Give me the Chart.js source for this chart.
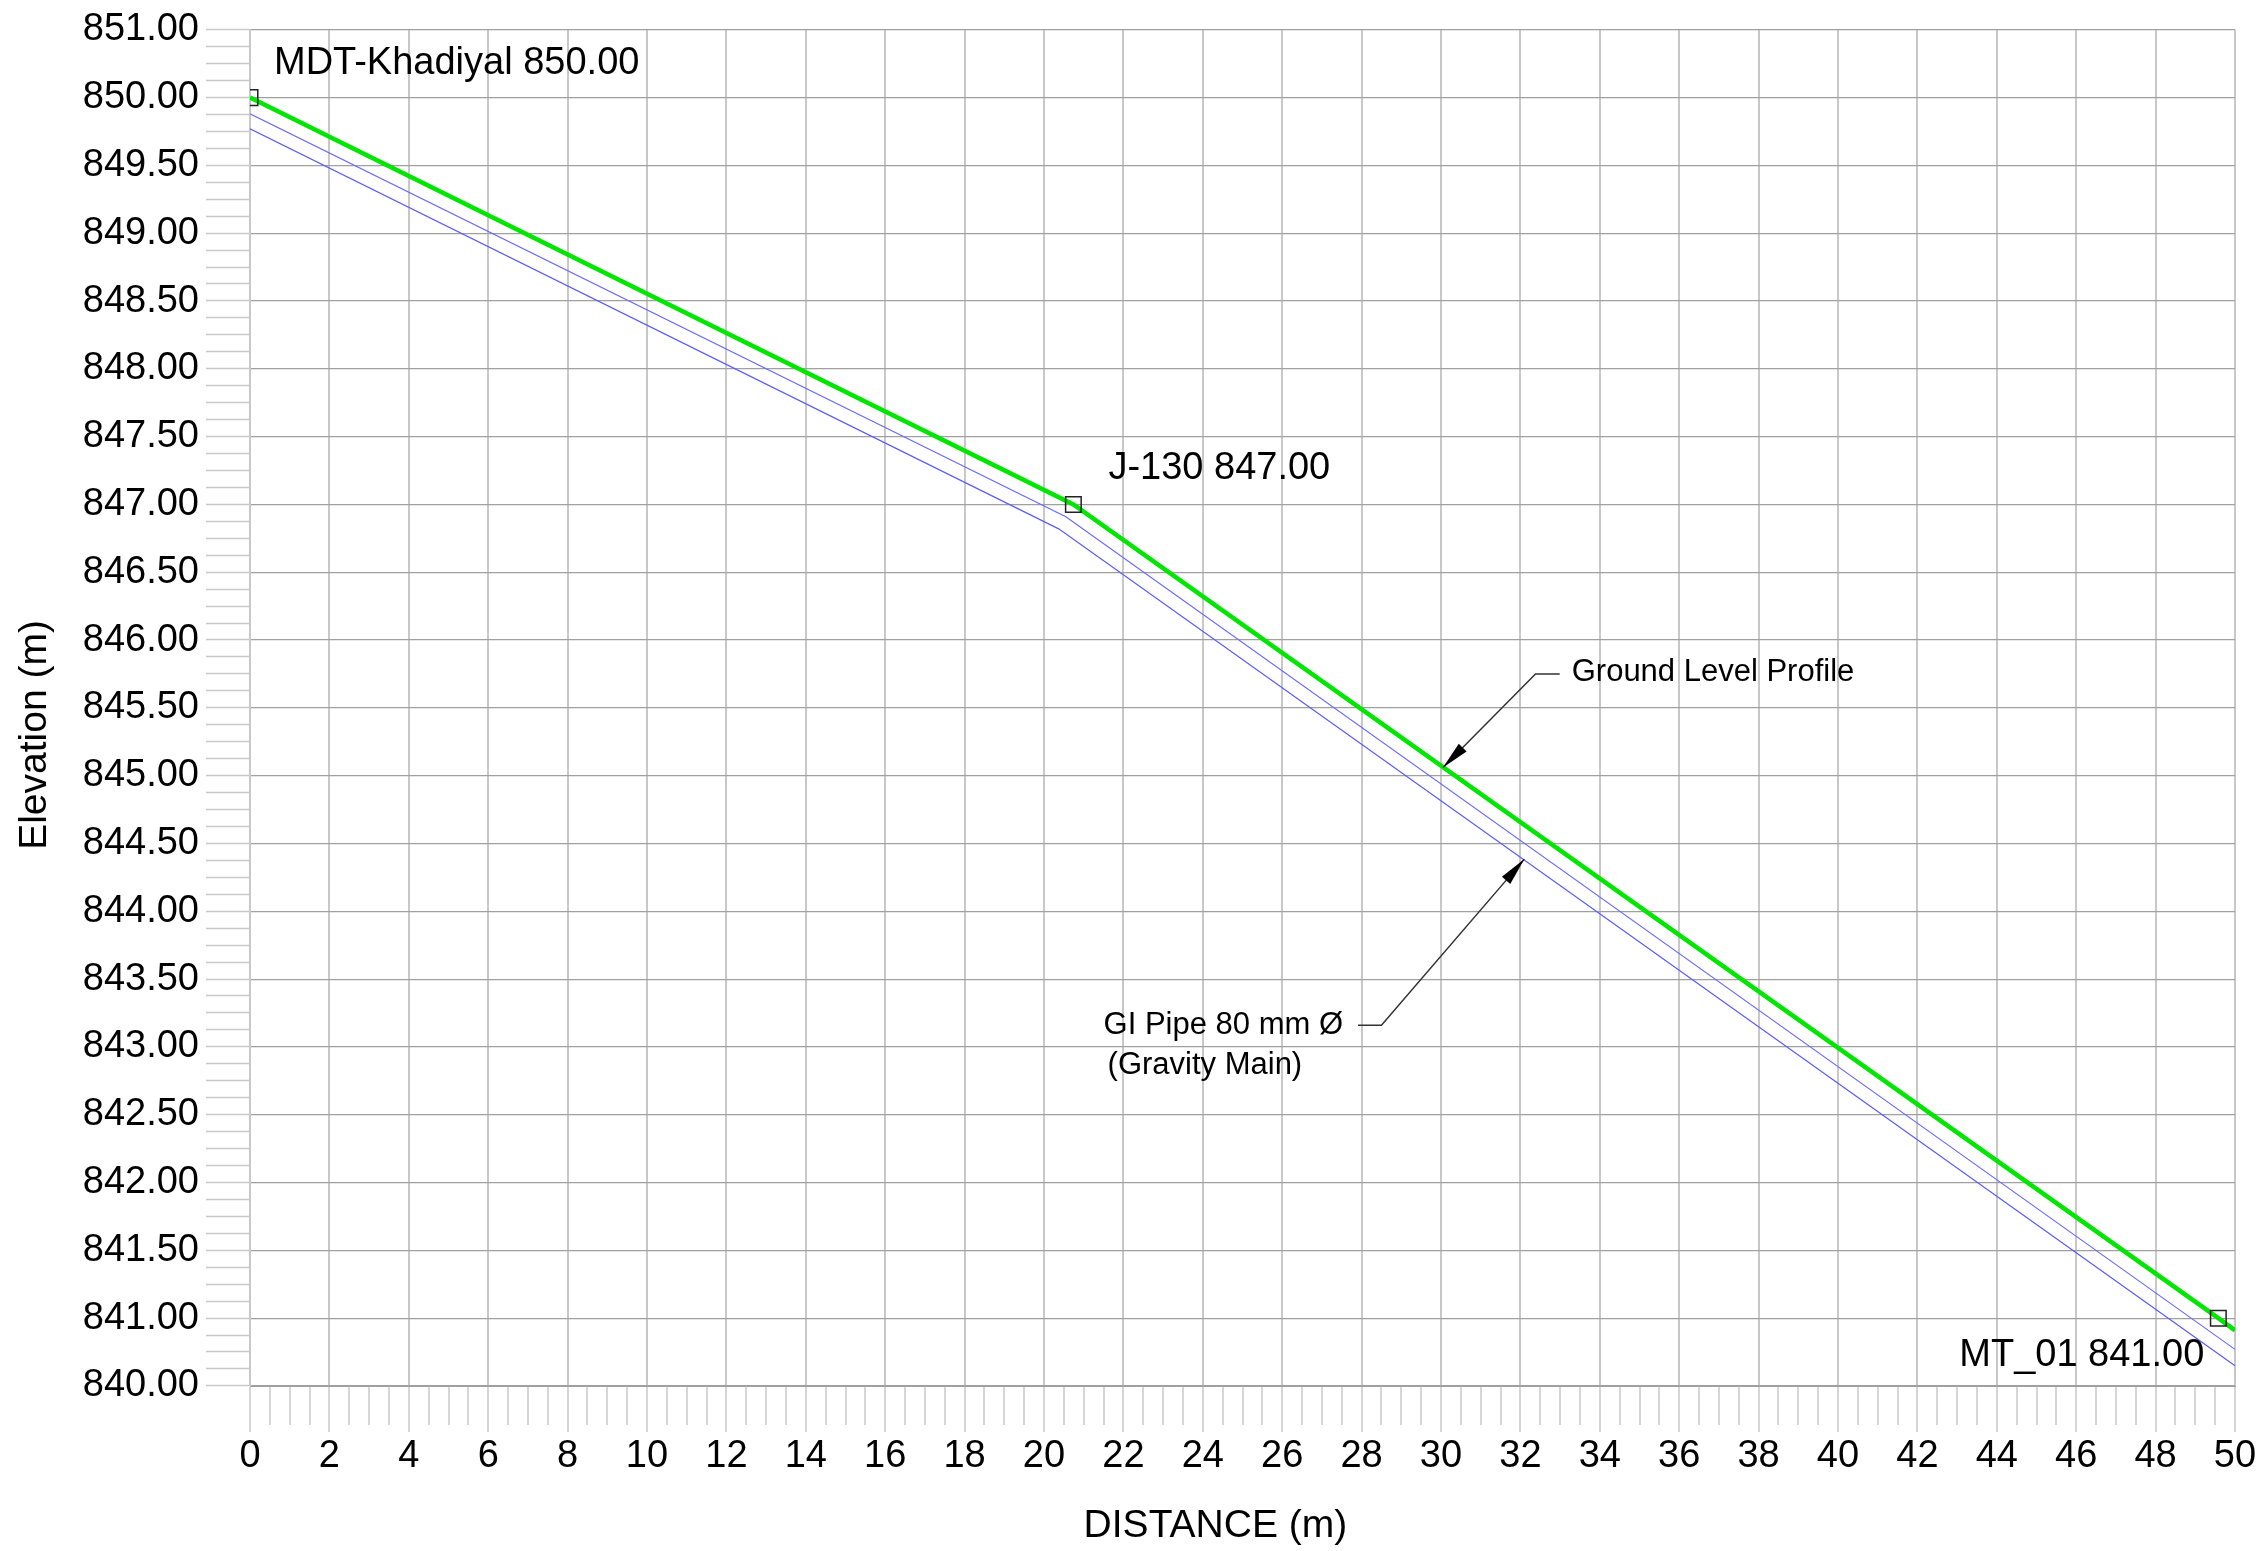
<!DOCTYPE html>
<html>
<head>
<meta charset="utf-8">
<title>Ground profile</title>
<script src="https://cdn.jsdelivr.net/npm/chart.js@4.4.1/dist/chart.umd.min.js"></script>
<style>
  html, body { margin: 0; padding: 0; background: #fff; }
  #wrap { width: 2265px; height: 1551px; }
</style>
</head>
<body>
<div id="wrap"><canvas id="profile" width="2265" height="1551"></canvas></div>
<script>
// ground level profile
const groundDistance = [0, 20.74, 49.58, 50];
const groundElevation = [850.00, 847.00, 841.00, 840.91];

// GI pipe (two thin lines)
const pipeTopDistance = [0, 20.55, 50];
const pipeTopElevation = [849.88, 846.91, 840.77];
const pipeBottomDistance = [0, 20.37, 50];
const pipeBottomElevation = [849.77, 846.82, 840.65];

// nodes
const nodeNames = ['MDT-Khadiyal', 'J-130', 'MT_01'];
const nodeDistance = [0, 20.74, 49.58];
const nodeElevation = [850.00, 847.00, 841.00];

// elevation labels as printed on the drawing, one per 0.5 grid line, bottom to top
const elevationTickLabels = ['840.00', '841.00', '841.50', '842.00', '842.50', '843.00', '843.50',
  '844.00', '844.50', '845.00', '845.50', '846.00', '846.50', '847.00', '847.50', '848.00',
  '848.50', '849.00', '849.50', '850.00', '851.00'];
const yMin = 840.5, yMax = 850.5;
const xMin = 0, xMax = 50;

// leader notes (data units)
const groundNote = { text: 'Ground Level Profile', tip: [30.05, 845.06], elbow: [32.38, 845.75], end: [32.99, 845.75] };
const pipeNote = { text: ['GI Pipe 80 mm Ø', '(Gravity Main)'], tip: [32.10, 844.385], elbow: [28.50, 843.16], end: [27.91, 843.16] };

const FONT = '"Liberation Sans", Arial, sans-serif';
const labelOffsets = [[24, -34, 'left'], [35, -36, 'left'], [-14, 37, 'right']];

function pts(xs, ys) {
  return xs.map((x, i) => ({ x: x, y: ys[i] }));
}
function isMajorY(v) {
  const k = (v - yMin) / 0.5;
  return Math.abs(k - Math.round(k)) < 1e-6;
}
function isMajorX(v) {
  return Math.abs(v / 2 - Math.round(v / 2)) < 1e-6;
}

const notesPlugin = {
  id: 'notes',
  afterDatasetsDraw(chart) {
    const ctx = chart.ctx;
    const sx = chart.scales.x, sy = chart.scales.y;
    const P = (p) => [sx.getPixelForValue(p[0]), sy.getPixelForValue(p[1])];
    ctx.save();

    // node labels
    ctx.fillStyle = '#000';
    ctx.font = '38px ' + FONT;
    ctx.textBaseline = 'middle';
    nodeNames.forEach((n, i) => {
      const px = sx.getPixelForValue(nodeDistance[i]);
      const py = sy.getPixelForValue(nodeElevation[i]);
      const o = labelOffsets[i];
      ctx.textAlign = o[2];
      ctx.fillText(n + ' ' + nodeElevation[i].toFixed(2), px + o[0], py + o[1]);
    });

    // leaders with arrow heads
    function leader(note) {
      const t = P(note.tip), e = P(note.elbow), d = P(note.end);
      ctx.strokeStyle = '#333';
      ctx.lineWidth = 1.5;
      ctx.beginPath();
      ctx.moveTo(d[0], d[1]);
      ctx.lineTo(e[0], e[1]);
      ctx.lineTo(t[0], t[1]);
      ctx.stroke();
      const ang = Math.atan2(t[1] - e[1], t[0] - e[0]);
      const len = 28, hw = 5.5;
      const bx = t[0] - len * Math.cos(ang), by = t[1] - len * Math.sin(ang);
      ctx.fillStyle = '#000';
      ctx.beginPath();
      ctx.moveTo(t[0], t[1]);
      ctx.lineTo(bx + hw * Math.sin(ang), by - hw * Math.cos(ang));
      ctx.lineTo(bx - hw * Math.sin(ang), by + hw * Math.cos(ang));
      ctx.closePath();
      ctx.fill();
      return d;
    }
    ctx.font = '31px ' + FONT;
    const g = leader(groundNote);
    ctx.textAlign = 'left';
    ctx.fillText(groundNote.text, g[0] + 12, g[1] - 2);

    const p = leader(pipeNote);
    ctx.font = '31px ' + FONT;
    const w = ctx.measureText(pipeNote.text[0]).width;
    const left = p[0] - 15 - w;
    ctx.textAlign = 'left';
    ctx.fillText(pipeNote.text[0], left, p[1]);
    ctx.fillText(pipeNote.text[1], left + 4, p[1] + 40);
    ctx.restore();
  }
};

const profile = new Chart(document.getElementById('profile').getContext('2d'), {
  type: 'line',
  data: {
    datasets: [
      {
        label: 'Nodes',
        data: pts(nodeDistance, nodeElevation),
        showLine: false,
        pointStyle: 'rect',
        pointRadius: 11,
        pointHoverRadius: 11,
        pointBorderColor: '#222',
        pointBackgroundColor: 'rgba(0,0,0,0)',
        pointBorderWidth: 1.5
      },
      {
        label: 'Ground Level Profile',
        data: pts(groundDistance, groundElevation),
        borderColor: '#00e600',
        borderWidth: 4.5,
        pointRadius: 0,
        tension: 0
      },
      {
        label: 'GI Pipe top',
        data: pts(pipeTopDistance, pipeTopElevation),
        borderColor: '#6b6bff',
        borderWidth: 1.2,
        pointRadius: 0,
        tension: 0
      },
      {
        label: 'GI Pipe bottom',
        data: pts(pipeBottomDistance, pipeBottomElevation),
        borderColor: '#5c5cff',
        borderWidth: 1.2,
        pointRadius: 0,
        tension: 0
      }
    ]
  },
  options: {
    responsive: false,
    animation: false,
    devicePixelRatio: 1,
    layout: { padding: { top: 23, right: 30, left: 0, bottom: 0 } },
    plugins: {
      legend: { display: false },
      tooltip: { enabled: false }
    },
    scales: {
      x: {
        type: 'linear',
        min: xMin,
        max: xMax,
        afterFit: (s) => { s.height = 165; },
        ticks: {
          stepSize: 0.5,
          autoSkip: false,
          maxRotation: 0,
          minRotation: 0,
          padding: 2,
          color: '#000',
          font: { family: FONT, size: 38 },
          callback: (v) => isMajorX(v) ? String(Math.round(v)) : ''
        },
        grid: {
          color: (c) => (c.tick && isMajorX(c.tick.value)) ? '#c8c8c8' : 'rgba(0,0,0,0)',
          lineWidth: 2,
          tickColor: '#c8c8c8',
          tickWidth: 1.5,
          tickLength: 46,
          tickBorderDash: (c) => (c.tick && isMajorX(c.tick.value)) ? [] : [38, 200]
        },
        border: { color: '#a0a0a0', width: 1 },
        title: {
          display: true,
          // trailing spaces nudge the title left, as on the drawing
          text: 'DISTANCE (m)     ',
          color: '#000',
          font: { family: FONT, size: 39 },
          padding: { top: 0, bottom: 1 }
        }
      },
      y: {
        min: yMin,
        max: yMax,
        afterFit: (s) => { s.width = 250; },
        ticks: {
          stepSize: 0.125,
          autoSkip: false,
          padding: 7,
          color: '#000',
          font: { family: FONT, size: 38 },
          callback: (v) => isMajorY(v) ? elevationTickLabels[Math.round((v - yMin) / 0.5)] : ''
        },
        grid: {
          color: (c) => (c.tick && isMajorY(c.tick.value)) ? '#a0a0a0' : 'rgba(0,0,0,0)',
          lineWidth: 1.2,
          tickColor: '#c8c8c8',
          tickWidth: 1.5,
          tickLength: 44
        },
        border: { color: '#c8c8c8', width: 2 },
        title: {
          display: true,
          text: 'Elevation (m)     ',
          color: '#000',
          font: { family: FONT, size: 39 },
          padding: { top: 12, bottom: 0 }
        }
      }
    }
  },
  plugins: [notesPlugin]
});
</script>
</body>
</html>
